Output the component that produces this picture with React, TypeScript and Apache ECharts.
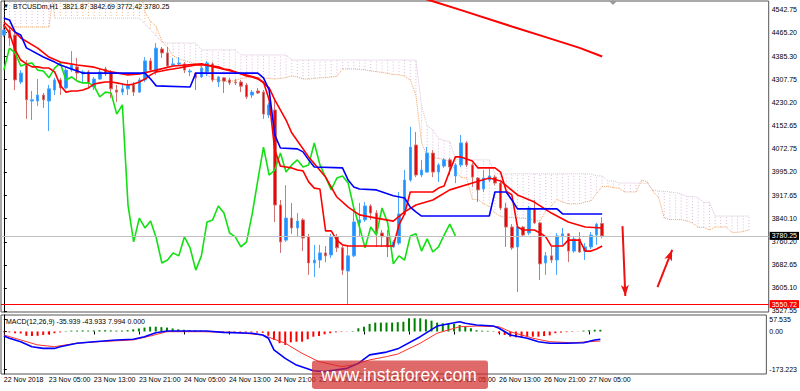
import React, { useEffect, useRef } from 'react';
import * as echarts from 'echarts';

// ---------- DATA ----------
const opens = [4456,4473,4456,4298,4355,4234,4234,4254,4234,4271,
 4305,4278,4338,4349,4325,4332,4281,4308,4342,4332,
 4271,4264,4275,4288,4264,4305,4369,4332,4409,4396,
 4355,4359,4359,4332,4328,4315,4332,4359,4298,4312,
 4305,4298,4298,4288,4254,4268,4264,4187,4204,3884,
 3766,3840,3807,3834,3777,3689,3699,3723,3716,3777,
 3740,3662,3713,3824,3834,3881,3857,3790,3777,3743,
 3756,3854,3968,4086,3985,3995,4059,3995,4015,4036,
 3982,4019,4093,4019,3975,3938,3968,3978,3958,3874,
 3810,3743,3810,3790,3871,3824,3689,3713,3699,3780,
 3787,3729,3770,3729,3743,3783,3821.87];
const closes = [4473,4446,4305,4328,4238,4238,4254,4238,4275,4305,
 4278,4338,4355,4328,4332,4295,4308,4332,4325,4275,
 4264,4275,4288,4264,4305,4369,4338,4412,4396,4352,
 4359,4362,4338,4335,4312,4345,4362,4305,4315,4301,
 4295,4295,4284,4248,4264,4261,4190,4221,3884,3760,
 3840,3807,3830,3773,3689,3699,3723,3713,3777,3740,
 3665,3713,3827,3834,3881,3857,3790,3777,3743,3760,
 3854,3968,4079,3985,4002,4059,3995,4019,4036,4012,
 4019,4093,4019,3978,3935,3975,3982,3958,3874,3810,
 3740,3810,3783,3874,3824,3686,3713,3699,3780,3787,
 3729,3770,3726,3743,3783,3820,3780.25];
const highs = [4493,4480,4473,4338,4372,4268,4308,4261,4288,4312,
 4312,4345,4402,4379,4338,4338,4315,4345,4349,4338,
 4288,4295,4305,4298,4312,4382,4379,4429,4416,4416,
 4379,4382,4365,4342,4332,4352,4369,4365,4318,4315,
 4312,4308,4305,4295,4271,4278,4271,4227,4238,3901,
 3951,3891,3857,3840,3787,3750,3750,3746,3787,3787,
 3746,3750,3884,3891,3894,3887,3867,3800,3800,3766,
 3928,4002,4147,4130,4036,4079,4069,4025,4042,4042,
 4025,4120,4099,4025,3978,4002,4009,3985,3962,3891,
 3820,3813,3813,3881,3901,3827,3726,3743,3790,3807,
 3790,3777,3793,3756,3793,3824,3842.69];
const lows = [4449,4419,4271,4291,4174,4170,4217,4211,4133,4254,
 4254,4275,4332,4305,4298,4278,4271,4305,4318,4244,
 4231,4254,4254,4251,4261,4298,4332,4322,4379,4349,
 4349,4352,4328,4318,4271,4312,4318,4298,4281,4261,
 4288,4288,4264,4241,4244,4258,4174,4177,3827,3723,
 3760,3787,3780,3729,3649,3642,3672,3692,3706,3726,
 3649,3548,3709,3777,3827,3834,3743,3743,3709,3740,
 3750,3851,3962,3978,3978,3992,3978,3962,4009,3985,
 3958,4012,4012,3945,3894,3928,3962,3951,3867,3743,
 3733,3591,3780,3783,3820,3632,3649,3689,3649,3750,
 3692,3723,3723,3699,3736,3750,3772.42];

// Ichimoku Tenkan-sen, one value per bar
const tenkan = [4490,4463,4406,4372,4359,4349,4349,4345,4345,4332,
 4287,4264,4268,4268,4271,4278,4291,4295,4298,4298,
 4295,4291,4288,4291,4298,4308,4322,4332,4335,4339,
 4342,4345,4349,4352,4355,4355,4355,4352,4349,4342,
 4339,4332,4325,4318,4315,4308,4298,4238,4069,4015,
 4012,4009,4002,3999,3962,3941,3938,3797,3797,3766,
 3750,3746,3746,3746,3746,3746,3746,3746,3746,3746,
 3817,3854,3928,3928,3928,3928,3928,3941,3948,3999,
 4046,4046,4039,4032,4009,4009,4009,4009,3995,3931,
 3918,3810,3800,3800,3800,3790,3777,3746,3746,3746,
 3766,3766,3766,3729,3729,3736,3746];
// Kijun-sen vertices [bar, price]
const kijunPts = [[0,4513],[1,4507],[2,4466],[3,4456],[4,4413],[7,4382],[9,4365],[10,4355],[14,4328],[25,4328],[26,4308],[27,4285],[33,4281],[34,4328],[45,4328],[46,4312],[47,4271],[48,4120],[49,4076],[52,4073],[53,4063],[54,4036],[55,4012],[60,4009],[61,3968],[62,3945],[63,3938],[66,3935],[69,3915],[71,3908],[72,3877],[73,3861],[74,3847],[86,3847],[87,3928],[89,3928],[90,3901],[91,3871],[98,3871],[99,3854],[106,3854]];
// moving averages [bar, price]
const maPts = [[0,4500],[2,4466],[3,4446],[6,4412],[8,4382],[10,4365],[13,4355],[16,4348],[19,4332],[22,4322],[24,4325],[27,4338],[30,4352],[35,4359],[38,4345],[41,4332],[45,4311],[47,4278],[48,4238],[50,4170],[51,4127],[54,4046],[57,3978],[59,3911],[61,3877],[63,3851],[66,3840],[69,3830],[71,3861],[73,3884],[76,3901],[79,3935],[83,3958],[86,3975],[88,3965],[91,3918],[94,3894],[97,3857],[100,3827],[103,3810],[106,3807]];
const longMaPts = [[70,4604],[76,4570],[81,4540],[90,4485],[96,4449],[102,4413],[106,4384]];
// Senkou span A / B, bars 0..132
const senkouA = [4483,4483,4483,4483,4483,4483,4483,4483,4483,
 4625,4625,4625,4625,4625,4625,4625,4625,4625,4625,4625,4625,4625,4625,4625,4625,
 4534,4502,4485,4436,4414,4386,4376,4370,4364,4359,4349,4322,4307,4305,4301,4300,4303,4310,4312,4313,4313,4312,4310,4308,4310,4313,4318,4315,4308,4308,4310,4312,4313,4315,4317,
 4342,4342,4342,4340,4339,4335,4333,4330,4327,4323,4322,4318,4305,4254,4095,4046,4044,4041,4037,4031,
 3999,3977,3975,3903,3903,3888,3879,3857,3846,3842,3842,3840,3840,3837,3834,3830,3864,3881,3903,3894,
 3888,3888,3888,3894,3898,3923,3946,3946,3943,3940,3928,3928,3928,3968,3962,3930,3909,3840,3835,3835,
 3835,3830,3824,3809,3809,3800,3810,3810,3810,3792,3792,3795,3800];
const senkouB = [4675,4675,4675,4675,4675,4675,4675,4675,4675,
 4513,4513,4513,4513,4513,4513,4513,4513,4513,4513,4513,4513,4513,4513,4513,4513,
 4493,4473,4453,4433,
 4429,4429,4429,4429,4429,4429,
 4406,4406,4406,4406,4406,4406,4406,
 4389,4389,4389,4389,4389,4389,4389,4389,4389,
 4372,4372,4372,4372,4372,4372,4372,4372,4372,4372,4372,4372,4372,4372,4372,4372,4372,4372,4372,4372,4372,4372,4372,
 4217,4150,4137,4108,4101,4098,4039,
 4036,4036,4036,4036,4036,4036,
 3989,3989,3989,3989,3989,3989,3989,3989,3989,3989,3989,3989,3989,3989,3989,3989,3989,3989,
 3982,3982,3965,3965,3958,3958,3958,3958,3958,3957,
 3933,3931,3930,3928,3926,3921,3913,3913,3909,3893,3893,
 3847,3847,3847,3847,3847,3847,3847];
// MACD(12,26,9)
const macdHist = [-3,-4,-8,-9,-20,-21,-20,-16,-14,-8,
 -4,2,4,4,5,4,5,6,6,5,
 4,4,6,10,14,18,22,22,20,18,
 14,10,8,6,5,4,3,2,-2,-3,
 -3,-3,-4,-4,-4,-5,-6,-20,-39,-54,
 -62,-50,-47,-47,-36,-24,-21,-13,-8,-4,
 -2,-1,2,15,22,35,41,41,41,41,
 43,45,61,61,61,56,50,41,38,38,
 35,30,25,15,6,4,3,2,-8,-16,
 -24,-27,-27,-24,-24,-24,-21,-18,-8,-5,
 -3,-2,-1,4,6,8,7.994];
const macdLinePts = [[0,-21],[1,-31],[3,-47],[5,-70],[7,-78],[9,-78],[10,-70],[13,-54],[16,-47],[20,-39],[23,-36],[25,-24],[27,-6],[29,2],[32,2],[36,2],[39,-4],[44,-8],[46,-16],[47,-31],[48,-85],[50,-124],[52,-155],[55,-181],[57,-185],[61,-170],[63,-147],[65,-108],[68,-95],[70,-80],[74,-24],[77,25],[81,45],[82,38],[84,30],[87,25],[88,15],[90,-16],[93,-31],[95,-47],[97,-54],[100,-54],[103,-52],[105,-39],[106,-35.939]];
const signalPts = [[0,-16],[3,-39],[6,-62],[9,-70],[13,-54],[17,-47],[23,-39],[26,-21],[29,-1],[35,-1],[41,-4],[46,-16],[50,-54],[53,-101],[56,-139],[60,-162],[62,-155],[65,-131],[68,-116],[70,-104],[74,-54],[77,-8],[81,22],[84,25],[88,22],[90,-1],[94,-31],[97,-47],[101,-52],[106,-43.933]];

// axes
const priceTicks = [4542.75,4465.20,4385.30,4307.75,4230.20,4152.65,4072.75,3995.20,3917.65,3840.10,3760.20,3682.65,3605.10,3527.55];
const macdTicks = [57.535, 0, -173.223];
const macdTickLabels = ['57.535', '0.00', '-173.223'];
const timeTickIdx = [0,8,16,24,32,40,48,56,64,72,80,88,96,104];
const timeTickLabels = ['22 Nov 2018','23 Nov 05:00','23 Nov 13:00','23 Nov 21:00','24 Nov 05:00','24 Nov 13:00','24 Nov 21:00','25 Nov 05:00','25 Nov 13:00','25 Nov 21:00','26 Nov 05:00','26 Nov 13:00','26 Nov 21:00','27 Nov 05:00'];
const lastPrice = 3780.25;
const supportLevel = 3550.72;
const arrowDown = [[109.6, 3813], [110.1, 3578]];
const arrowUp = [[115.8, 3608], [118.4, 3733]];
const headerText = 'BTCUSDm,H1  3821.87 3842.69 3772.42 3780.25';
const macdText = 'MACD(12,26,9) -35.939 -43.933 7.994 0.000';
const watermark = 'www.instaforex.com';

const FONT = "'Liberation Sans', Arial, sans-serif";
const FS = 7;

export default function App() {
  const ref = useRef<HTMLDivElement>(null);
  useEffect(() => {
    if (!ref.current) return;
    const chart = echarts.init(ref.current, undefined, { renderer: 'svg' });
    const candles = opens.map((o, i) => [i, o, closes[i], lows[i], highs[i]]);
    const cloud = senkouA.map((a, i) => [i, a, senkouB[i]]);
    const lineBase = { type: 'line', xAxisIndex: 0, yAxisIndex: 0, symbol: 'none', showSymbol: false, silent: true, z: 4 };
    const option: any = {
      animation: false,
      backgroundColor: '#ffffff',
      grid: [
        { left: 1, top: 1, width: 768, height: 311, show: true, borderColor: '#555', borderWidth: 1, backgroundColor: 'transparent' },
        { left: 1, top: 315, width: 768, height: 59, show: true, borderColor: '#555', borderWidth: 1, backgroundColor: 'transparent' },
      ],
      xAxis: [
        { type: 'value', gridIndex: 0, min: -0.5, max: 135.5, show: false },
        {
          type: 'value', gridIndex: 1, min: -0.5, max: 135.5,
          axisLine: { show: false }, splitLine: { show: false },
          axisTick: { show: true, customValues: timeTickIdx, length: 3, lineStyle: { color: '#000' } },
          axisLabel: {
            customValues: timeTickIdx, align: 'left', margin: 2, fontSize: FS, fontFamily: FONT, color: '#000',
            formatter: (v: number) => { const k = timeTickIdx.indexOf(Math.round(v)); return k >= 0 ? timeTickLabels[k] : ''; },
          },
        },
      ],
      yAxis: [
        {
          type: 'value', gridIndex: 0, position: 'right', min: 3524.1, max: 4570.6,
          splitLine: { show: false }, axisLine: { show: true, lineStyle: { color: '#000' } },
          axisTick: { show: true, customValues: priceTicks, length: 3, lineStyle: { color: '#000' } },
          axisLabel: { customValues: priceTicks, margin: 3, fontSize: FS, fontFamily: FONT, color: '#000', formatter: (v: number) => v.toFixed(2) },
        },
        {
          type: 'value', gridIndex: 1, position: 'right', min: -196.1, max: 76.1,
          splitLine: { show: false }, axisLine: { show: true, lineStyle: { color: '#000' } },
          axisTick: { show: true, customValues: macdTicks, length: 3, lineStyle: { color: '#000' } },
          axisLabel: {
            customValues: macdTicks, margin: 3, fontSize: FS, fontFamily: FONT, color: '#000',
            formatter: (v: number) => { const k = macdTicks.findIndex((t) => Math.abs(t - v) < 1e-6); return k >= 0 ? macdTickLabels[k] : ''; },
          },
        },
      ],
      series: [
        {
          type: 'custom', xAxisIndex: 0, yAxisIndex: 0, data: cloud, clip: true, silent: true, z: 1,
          encode: { x: 0, y: [1, 2] },
          renderItem: (params: any, api: any) => {
            const i = api.value(0), a = api.value(1), b = api.value(2);
            const p1 = api.coord([i, a]);
            const p2 = api.coord([i, b]);
            return {
              type: 'line',
              shape: { x1: p1[0], y1: p1[1], x2: p2[0], y2: p2[1] },
              style: { stroke: b > a ? '#dcbcdc' : '#f4b07a', lineWidth: 1, lineDash: [1, 2] },
            };
          },
        },
        { ...lineBase, z: 2, data: senkouA.map((v, i) => [i, v]), lineStyle: { color: '#f4a460', width: 1, type: 'dotted' } },
        { ...lineBase, z: 2, data: senkouB.map((v, i) => [i, v]), lineStyle: { color: '#d8bfd8', width: 1, type: 'dotted' } },
        {
          type: 'candlestick', xAxisIndex: 0, yAxisIndex: 0, data: candles, barWidth: 3, silent: true, z: 3,
          itemStyle: { color: '#1e90ff', color0: '#e80808', borderColor: '#4aa6ff', borderColor0: '#cf7272', borderWidth: 1 },
          markLine: {
            silent: true, symbol: ['none', 'none'], animation: false,
            data: [
              { yAxis: lastPrice, lineStyle: { color: '#c0c0c0', width: 1, type: 'solid' },
                label: { show: true, position: 'end', distance: 1, formatter: lastPrice.toFixed(2), backgroundColor: '#000', color: '#fff', padding: [1, 2, 0, 2], fontSize: FS, fontFamily: FONT } },
              { yAxis: supportLevel, lineStyle: { color: '#ff0000', width: 1, type: 'solid' },
                label: { show: true, position: 'end', distance: 1, formatter: supportLevel.toFixed(2), backgroundColor: '#ff0000', color: '#fff', padding: [1, 2, 0, 2], fontSize: FS, fontFamily: FONT } },
              [
                { coord: arrowDown[0], symbol: 'none', lineStyle: { color: '#ee1111', width: 2, type: 'solid' }, label: { show: false } },
                { coord: arrowDown[1], symbol: 'arrow', symbolSize: [6, 11] },
              ],
              [
                { coord: arrowUp[0], symbol: 'none', lineStyle: { color: '#ee1111', width: 2, type: 'solid' }, label: { show: false } },
                { coord: arrowUp[1], symbol: 'arrow', symbolSize: [6, 11] },
              ],
            ],
          },
        },
        { ...lineBase, data: closes.slice(26).map((v, i) => [i, v]), lineStyle: { color: '#12e012', width: 1.6 } },
        { ...lineBase, data: maPts, lineStyle: { color: '#ff0000', width: 1.6 } },
        { ...lineBase, data: tenkan.map((v, i) => [i, v]), lineStyle: { color: '#ff0000', width: 1.6 } },
        { ...lineBase, data: kijunPts, lineStyle: { color: '#0000ff', width: 1.6 } },
        { ...lineBase, data: longMaPts, lineStyle: { color: '#ff0000', width: 2 } },
        {
          type: 'bar', xAxisIndex: 1, yAxisIndex: 1, barWidth: 2, silent: true, z: 2,
          data: macdHist.map((v, i) => [i, v]),
          itemStyle: { color: (p: any) => (p.value[1] >= 0 ? '#008000' : '#ff0000') },
        },
        { type: 'line', xAxisIndex: 1, yAxisIndex: 1, symbol: 'none', silent: true, z: 4, data: signalPts, lineStyle: { color: '#ff3030', width: 1 } },
        { type: 'line', xAxisIndex: 1, yAxisIndex: 1, symbol: 'none', silent: true, z: 5, data: macdLinePts, lineStyle: { color: '#0000ff', width: 1.6 } },
      ],
      graphic: [
        { type: 'text', x: 3, y: 6, z: 50, style: { text: '\u25BC', fontSize: 6, fill: '#000', textVerticalAlign: 'middle', verticalAlign: 'middle' } },
        { type: 'text', x: 13, y: 6, z: 50, style: { text: headerText, fontSize: FS, fontFamily: FONT, fill: '#000', textVerticalAlign: 'middle', verticalAlign: 'middle' } },
        { type: 'text', x: 6, y: 321.5, z: 50, style: { text: macdText, fontSize: FS, fontFamily: FONT, fill: '#000', textVerticalAlign: 'middle', verticalAlign: 'middle' } },
        { type: 'polygon', z: 50, shape: { points: [[609, 1], [617, 1], [613, 5]] }, style: { fill: '#999' } },
        { type: 'rect', z: 100, shape: { x: 312, y: 360.5, width: 176, height: 28.5, r: 3 }, style: { fill: 'rgba(210,40,40,0.7)' } },
        { type: 'text', x: 399, y: 374.5, z: 101, style: { text: watermark, fontSize: 17.5, fontFamily: FONT, fill: '#ffffff', textAlign: 'center', align: 'center', textVerticalAlign: 'middle', verticalAlign: 'middle' } },
      ],
    };
    chart.setOption(option);
    return () => chart.dispose();
  }, []);
  return <div ref={ref} style={{ position: 'fixed', left: 0, top: 0, width: 800, height: 391, background: '#fff' }} />;
}
